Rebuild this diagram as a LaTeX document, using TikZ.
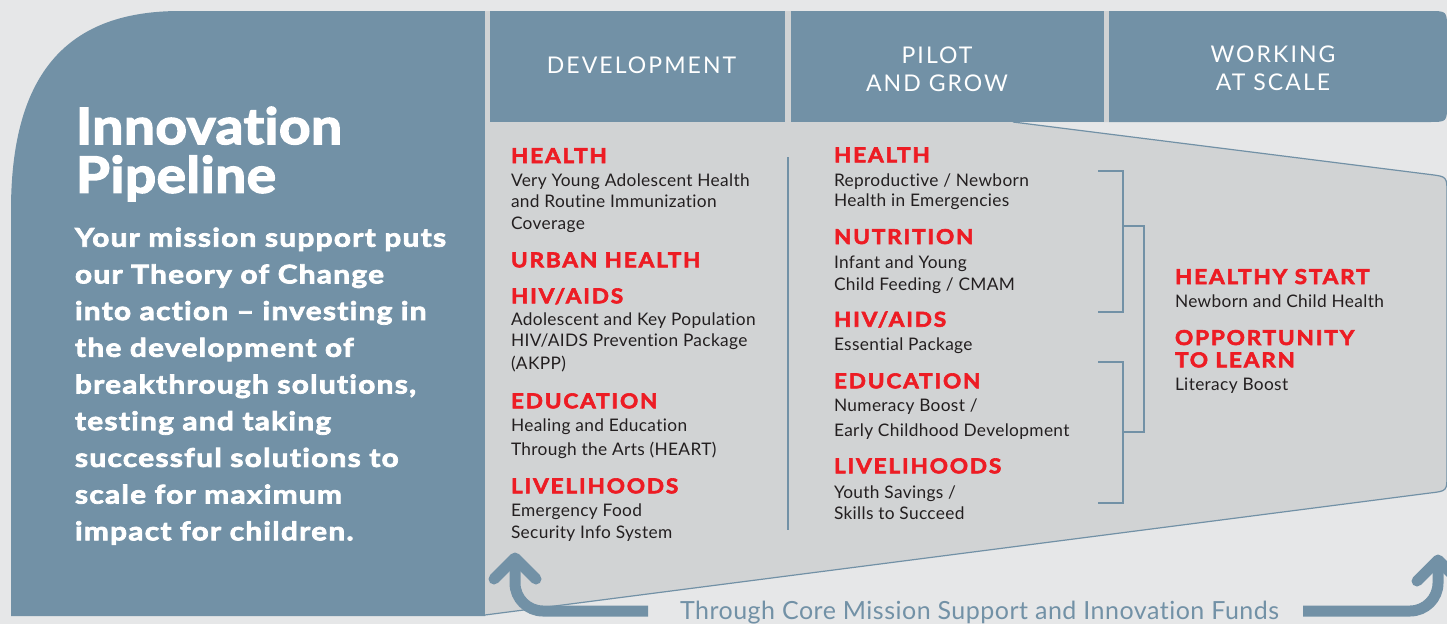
\documentclass[tikz,border=0pt]{standalone}
\usepackage{fontspec}
\setmainfont{Lato}[Ligatures={NoCommon}]
\newfontfamily\bodyfont{Lato}[Ligatures={NoCommon}, LetterSpace=2]
\newfontfamily\heavy{Lato}[Ligatures={NoCommon}, BoldFeatures={FakeBold=3}]
\newfontfamily\hdrfont{Lato}[Ligatures={NoCommon}, LetterSpace=9]
\definecolor{bgc}{HTML}{E6E7E8}
\definecolor{pblue}{HTML}{7291A6}
\definecolor{panel}{HTML}{D1D3D4}
\definecolor{hred}{HTML}{ED1C24}
\definecolor{tdark}{HTML}{231F20}
\tikzset{
  redhd/.style={anchor=base west, inner sep=0pt, outer sep=0pt, text=hred,
    font=\heavy\bfseries\addfontfeature{FakeStretch=1.1, LetterSpace=9}\fontsize{20.5}{24}\selectfont},
  bodyt/.style={anchor=base west, inner sep=0pt, outer sep=0pt, text=tdark,
    font=\bodyfont\fontsize{17.3}{21}\selectfont},
  hdrt/.style={anchor=base, inner sep=0pt, outer sep=0pt, text=white,
    font=\hdrfont\fontsize{23}{27}\selectfont},
  titlet/.style={anchor=base west, inner sep=0pt, outer sep=0pt, text=white,
    font=\heavy\bfseries\addfontfeature{FakeStretch=1.1, LetterSpace=1}\fontsize{50}{55}\selectfont},
  parat/.style={anchor=base west, inner sep=0pt, outer sep=0pt, text=white,
    font=\heavy\bfseries\addfontfeature{FakeStretch=1.16, LetterSpace=5}\fontsize{25.7}{30}\selectfont},
  fundt/.style={anchor=base west, inner sep=0pt, outer sep=0pt, text=pblue,
    font=\bodyfont\fontsize{25}{30}\selectfont},
  thinline/.style={draw=pblue, line width=1.2pt},
  fatline/.style={draw=pblue, line width=11pt},
}
\begin{document}
\begin{tikzpicture}[x=1pt,y=-1pt]
\useasboundingbox (0,0) rectangle (1447,624);
\fill[bgc] (0,0) rectangle (1447,624);
% left panel
\fill[pblue] (11,616) -- (11,210) .. controls (11,70) and (70,11) .. (180,11) -- (485,11) -- (485,616) -- cycle;
% gray funnel
\fill[panel] (485,11) -- (1109,11) -- (1109,122) -- (1013,122) -- (1430,174.5) .. controls (1447,176.6) .. (1447,194) -- (1447,474) .. controls (1447,491) .. (1430,493) -- (485,615) -- cycle;
\draw[thinline] (1013,122) -- (1430,174.5) .. controls (1447,176.6) .. (1447,194) -- (1447,474) .. controls (1447,491) .. (1430,493) -- (485,615);
% header boxes
\fill[pblue] (490,11) rectangle (785,122);
\fill[pblue] (791,11) rectangle (1104,122);
\fill[pblue] (1109,11) -- (1429,11) .. controls (1447,11) .. (1447,29) -- (1447,104) .. controls (1447,122) .. (1429,122) -- (1109,122) -- cycle;
\node[hdrt] (hdev) at (641.5,73.3) {DEVELOPMENT};
\node[hdrt] (hpil1) at (937,63.3) {PILOT};
\node[hdrt] (hpil2) at (937,91.7) {AND GROW};
\node[hdrt] (hwrk1) at (1273,62.3) {WORKING};
\node[hdrt] (hwrk2) at (1273,90.7) {AT SCALE};
% title
\node[titlet] (t1) at (76,144) {Innovation};
\node[titlet] (t2) at (76,192.7) {Pipeline};
\foreach \txt [count=\i] in {Your mission support puts, our Theory of Change, into action – investing in, the development of, {breakthrough solutions,}, testing and taking, successful solutions to, scale for maximum, impact for children.}
  \node[parat] (p\i) at (75,{246.7+36.7*(\i-1)}) {\txt};
% column divider
\draw[thinline] (788,157) -- (788,530);
% column 1
\node[redhd] (a1) at (511,163) {HEALTH};
\node[bodyt] (a2) at (511,186.7) {Very Young Adolescent Health};
\node[bodyt] (a3) at (511,207.7) {and Routine Immunization};
\node[bodyt] (a4) at (511,229.3) {Coverage};
\node[redhd] (a5) at (511,267.3) {URBAN HEALTH};
\node[redhd] (a6) at (511,303.3) {HIV/AIDS};
\node[bodyt] (a7) at (511,325) {Adolescent and Key Population};
\node[bodyt] (a8) at (511,346.7) {HIV/AIDS Prevention Package};
\node[bodyt] (a9) at (511,369) {(AKPP)};
\node[redhd] (a10) at (511,408.3) {EDUCATION};
\node[bodyt] (a11) at (511,431.7) {Healing and Education};
\node[bodyt] (a12) at (511,455) {Through the Arts (HEART)};
\node[redhd] (a13) at (511,493.3) {LIVELIHOODS};
\node[bodyt] (a14) at (511,516.7) {Emergency Food};
\node[bodyt] (a15) at (511,538.5) {Security Info System};
% column 2
\node[redhd] (b1) at (834,162.3) {HEALTH};
\node[bodyt] (b2) at (834,186) {Reproductive / Newborn};
\node[bodyt] (b3) at (834,206.7) {Health in Emergencies};
\node[redhd] (b4) at (834,244) {NUTRITION};
\node[bodyt] (b5) at (834,268.3) {Infant and Young};
\node[bodyt] (b6) at (834,290.7) {Child Feeding / CMAM};
\node[redhd] (b7) at (834,326.7) {HIV/AIDS};
\node[bodyt] (b8) at (834,350.7) {Essential Package};
\node[redhd] (b9) at (834,388.3) {EDUCATION};
\node[bodyt] (b10) at (834,411.7) {Numeracy Boost /};
\node[bodyt] (b11) at (834,436) {Early Childhood Development};
\node[redhd] (b12) at (834,473.3) {LIVELIHOODS};
\node[bodyt] (b13) at (834,498.3) {Youth Savings /};
\node[bodyt] (b14) at (834,519.3) {Skills to Succeed};
% brackets
\draw[thinline] (1098,171) -- (1123,171) -- (1123,312) -- (1098,312);
\draw[thinline] (1098,362) -- (1123,362) -- (1123,503) -- (1098,503);
\draw[thinline] (1123,226) -- (1144,226) -- (1144,432) -- (1123,432);
% column 3
\node[redhd] (c1) at (1175,284) {HEALTHY START};
\node[bodyt] (c2) at (1175,307.7) {Newborn and Child Health};
\node[redhd] (c3) at (1175,345) {OPPORTUNITY};
\node[redhd] (c4) at (1175,367.3) {TO LEARN};
\node[bodyt] (c5) at (1175,390.7) {Literacy Boost};
% bottom arrows and label
\node[fundt] (fund) at (680,619.6) {Through Core Mission Support and Innovation Funds};
\coordinate (la) at (648,611);
\coordinate (lb) at (515,565);
\draw[fatline, rounded corners=28] (la) -- (515,611) -- (lb);
\draw[fatline, line cap=round, line join=round] (494,579) -- (515,558) -- (536,579);
\coordinate (ra) at (1303,611);
\coordinate (rb) at (1438,565);
\draw[fatline, rounded corners=28] (ra) -- (1438,611) -- (rb);
\draw[fatline, line cap=round, line join=round] (1417,581) -- (1438,560) -- (1459,581);
\end{tikzpicture}
\end{document}
